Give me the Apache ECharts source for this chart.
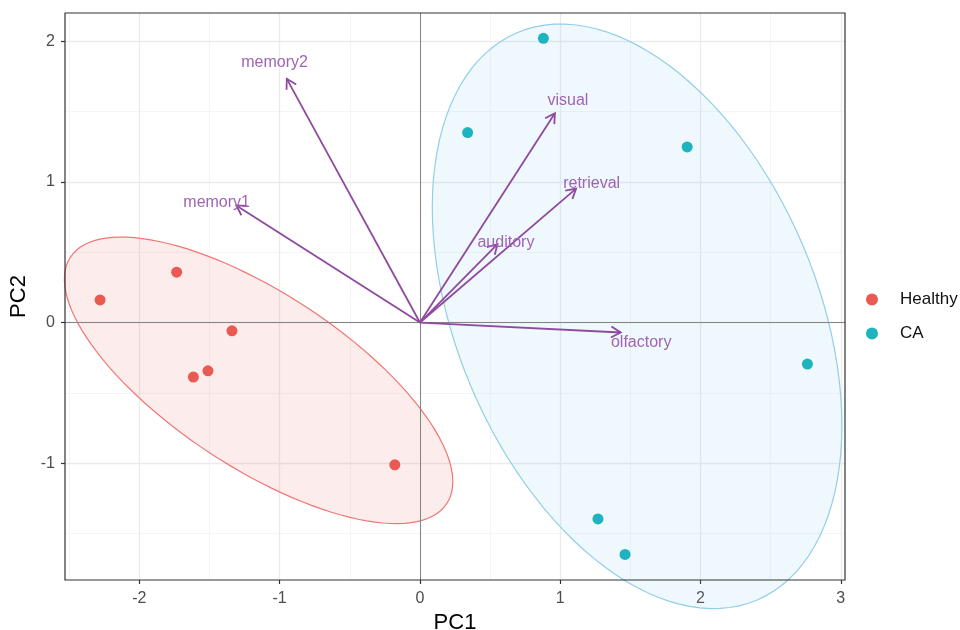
<!DOCTYPE html>
<html>
<head>
<meta charset="utf-8">
<script src="https://cdn.jsdelivr.net/npm/echarts@6/dist/echarts.min.js"></script>
<style>
  html, body { margin: 0; padding: 0; background: #fff; }
  #chart { width: 960px; height: 630px; }
</style>
</head>
<body>
<div id="chart"></div>
<script>
// sample scores (PC1, PC2)
const healthyX = [-2.28, -1.734, -1.34, -1.615, -1.511, -0.179]
const healthyY = [0.161, 0.358, -0.059, -0.388, -0.343, -1.011]
const caX = [0.88, 0.34, 1.905, 2.762, 1.269, 1.462]
const caY = [2.02, 1.35, 1.248, -0.295, -1.396, -1.648]

// variable loadings (arrow tips) and where their names sit
const varNames = ['memory2', 'memory1', 'visual', 'retrieval', 'auditory', 'olfactory']
const tipX = [-0.949, -1.309, 0.962, 1.113, 0.553, 1.431]
const tipY = [1.732, 0.832, 1.488, 0.952, 0.557, -0.071]
const nameX = [-1.036, -1.449, 1.055, 1.224, 0.613, 1.577]
const nameY = [1.844, 0.856, 1.578, 0.991, 0.57, -0.146]

// group ellipses: centre x, centre y, semi-major, semi-minor, angle (deg)
const healthyEllipse = [-1.15, -0.411, 1.602, 0.622, -33.1]
const caEllipse = [1.548, 0.044, 2.19, 1.285, 113]

// axes
const xTicks = [-2, -1, 0, 1, 2, 3]
const yTicks = [-1, 0, 1, 2]
const xMinor = [-2.5, -1.5, -0.5, 0.5, 1.5, 2.5]
const yMinor = [-1.5, -0.5, 0.5, 1.5]

const FONT = 'Liberation Sans, Arial, Helvetica, sans-serif'

function zip(xs, ys) {
  return xs.map((x, i) => [x, ys[i]])
}

function renderEllipse(params, api) {
  const cx = api.value(0)
  const cy = api.value(1)
  const a = api.value(2)
  const b = api.value(3)
  const ang = api.value(4) * Math.PI / 180
  const pts = []
  for (let i = 0; i <= 120; i++) {
    const t = i / 120 * Math.PI * 2
    const ex = a * Math.cos(t)
    const ey = b * Math.sin(t)
    pts.push(api.coord([
      cx + ex * Math.cos(ang) - ey * Math.sin(ang),
      cy + ex * Math.sin(ang) + ey * Math.cos(ang)
    ]))
  }
  return {
    type: 'polygon',
    shape: { points: pts },
    style: api.style()
  }
}

function renderArrow(params, api) {
  const o = api.coord([0, 0])
  const p = api.coord([api.value(0), api.value(1)])
  const t = api.coord([api.value(2), api.value(3)])
  const ang = Math.atan2(p[1] - o[1], p[0] - o[0])
  const len = 11
  const spread = Math.PI / 6
  const h1 = [p[0] - len * Math.cos(ang - spread), p[1] - len * Math.sin(ang - spread)]
  const h2 = [p[0] - len * Math.cos(ang + spread), p[1] - len * Math.sin(ang + spread)]
  const stroke = { stroke: '#8e4a9e', lineWidth: 1.8, fill: null }
  return {
    type: 'group',
    children: [
      { type: 'polyline', shape: { points: [o, p] }, style: stroke },
      { type: 'polyline', shape: { points: [h1, p, h2] }, style: stroke },
      {
        type: 'text',
        style: {
          text: varNames[params.dataIndex],
          x: t[0],
          y: t[1],
          fill: '#a064b3',
          font: '16px ' + FONT,
          align: 'center',
          verticalAlign: 'middle'
        },
        z2: 10
      }
    ]
  }
}

const chart = echarts.init(document.getElementById('chart'), null, { renderer: 'canvas' })

const gridLines = []
for (const v of xMinor) gridLines.push({ xAxis: v, lineStyle: { color: '#f3f3f3', width: 0.8, type: 'solid' } })
for (const v of yMinor) gridLines.push({ yAxis: v, lineStyle: { color: '#f3f3f3', width: 0.8, type: 'solid' } })
for (const v of xTicks) gridLines.push({ xAxis: v, lineStyle: { color: '#ebebeb', width: 1.3, type: 'solid' } })
for (const v of yTicks) gridLines.push({ yAxis: v, lineStyle: { color: '#ebebeb', width: 1.3, type: 'solid' } })

chart.setOption({
  animation: false,
  backgroundColor: '#fff',
  grid: {
    left: 65,
    right: 115,
    top: 13,
    bottom: 50,
    outerBoundsMode: 'none',
    containLabel: false,
    show: true,
    borderColor: '#333',
    borderWidth: 1.2,
    z: 5
  },
  legend: {
    data: ['Healthy', 'CA'],
    orient: 'vertical',
    left: 861,
    top: 286,
    itemWidth: 12,
    itemHeight: 12,
    itemGap: 17,
    icon: 'circle',
    textStyle: { fontSize: 17, color: '#111', fontFamily: FONT, padding: [0, 0, 0, 17] }
  },
  xAxis: {
    type: 'value',
    min: -2.53,
    max: 3.03,
    name: 'PC1',
    nameLocation: 'middle',
    nameGap: 30,
    nameTextStyle: { fontSize: 22, color: '#000', fontFamily: FONT },
    axisLine: { show: false, onZero: false },
    axisTick: { show: true, customValues: xTicks, length: 4, lineStyle: { color: '#333', width: 1.2 } },
    axisLabel: { customValues: xTicks, fontSize: 16, color: '#4d4d4d', fontFamily: FONT, margin: 11 },
    splitLine: { show: false }
  },
  yAxis: {
    type: 'value',
    min: -1.83,
    max: 2.2,
    name: 'PC2',
    nameLocation: 'middle',
    nameGap: 35,
    nameTextStyle: { fontSize: 22, color: '#000', fontFamily: FONT },
    axisLine: { show: false, onZero: false },
    axisTick: { show: true, customValues: yTicks, length: 4, lineStyle: { color: '#333', width: 1.2 } },
    axisLabel: { customValues: yTicks, fontSize: 16, color: '#4d4d4d', fontFamily: FONT, margin: 10 },
    splitLine: { show: false }
  },
  series: [
    {
      name: 'gridlines',
      type: 'scatter',
      data: [],
      z: 0,
      markLine: {
        silent: true,
        symbol: 'none',
        label: { show: false },
        animation: false,
        z: 0,
        data: gridLines
      }
    },
    {
      name: 'HealthyEllipse',
      type: 'custom',
      renderItem: renderEllipse,
      data: [healthyEllipse],
      itemStyle: { color: 'rgba(244,120,120,0.14)', borderColor: '#ee7774', borderWidth: 1.2 },
      silent: true,
      clip: false,
      z: 1
    },
    {
      name: 'CAEllipse',
      type: 'custom',
      renderItem: renderEllipse,
      data: [caEllipse],
      itemStyle: { color: 'rgba(135,200,235,0.13)', borderColor: '#92cfe6', borderWidth: 1.2 },
      silent: true,
      clip: false,
      z: 1
    },
    {
      name: 'zero',
      type: 'scatter',
      data: [],
      z: 2,
      markLine: {
        silent: true,
        symbol: 'none',
        label: { show: false },
        animation: false,
        z: 2,
        lineStyle: { color: '#858585', width: 1, type: 'solid' },
        data: [{ xAxis: 0 }, { yAxis: 0 }]
      }
    },
    {
      name: 'Healthy',
      type: 'scatter',
      data: zip(healthyX, healthyY),
      symbolSize: 11,
      itemStyle: { color: '#eb5a52', opacity: 1 },
      z: 4
    },
    {
      name: 'CA',
      type: 'scatter',
      data: zip(caX, caY),
      symbolSize: 11,
      itemStyle: { color: '#1db3bf', opacity: 1 },
      z: 4
    },
    {
      name: 'loadings',
      type: 'custom',
      renderItem: renderArrow,
      data: varNames.map((n, i) => [tipX[i], tipY[i], nameX[i], nameY[i]]),
      silent: true,
      clip: false,
      z: 3
    }
  ]
})
</script>
</body>
</html>
